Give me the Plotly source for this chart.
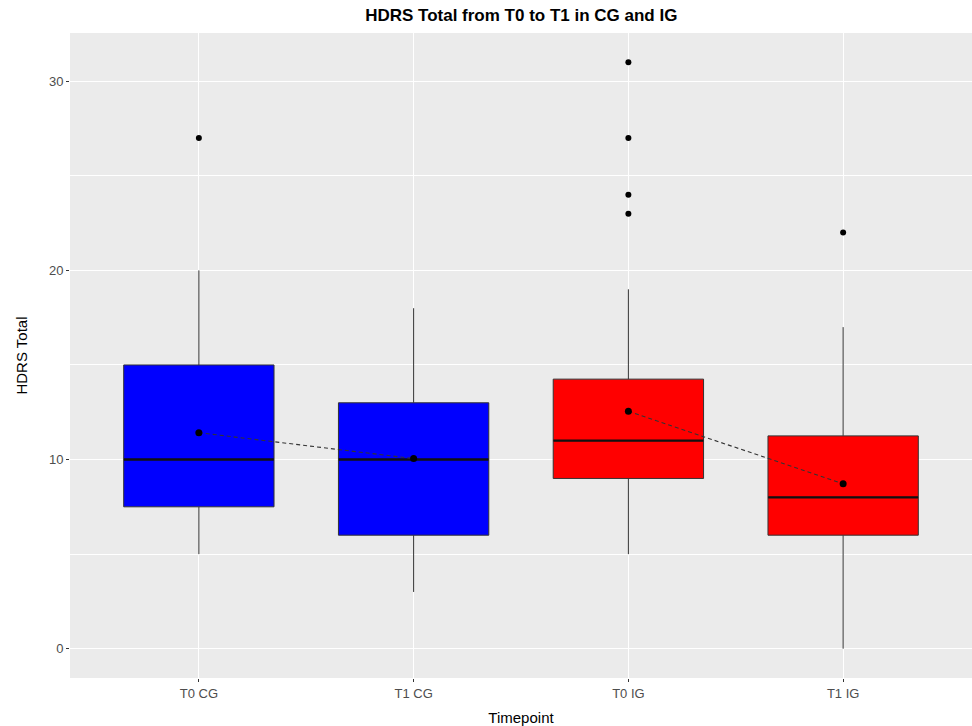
import plotly.graph_objects as go

categories = ["T0 CG", "T1 CG", "T0 IG", "T1 IG"]
fill_colors = ["#0000FF", "#0000FF", "#FF0000", "#FF0000"]
q1 = [7.5, 6.0, 9.0, 6.0]
medians = [10.0, 10.0, 11.0, 8.0]
q3 = [15.0, 13.0, 14.25, 11.25]
lower_whisker = [5.0, 3.0, 5.0, 0.0]
upper_whisker = [20.0, 18.0, 19.0, 17.0]
means = [11.42, 10.05, 12.55, 8.72]
mean_groups = [["T0 CG", "T1 CG"], ["T0 IG", "T1 IG"]]
outlier_cats = ["T0 CG", "T0 IG", "T0 IG", "T0 IG", "T0 IG", "T1 IG"]
outlier_vals = [27, 31, 27, 24, 23, 22]

fig = go.Figure()
for i, c in enumerate(categories):
    fig.add_trace(go.Box(
        x=[c], q1=[q1[i]], median=[medians[i]], q3=[q3[i]],
        lowerfence=[lower_whisker[i]], upperfence=[upper_whisker[i]],
        fillcolor=fill_colors[i], line=dict(color="#333333", width=1),
        whiskerwidth=0, width=0.7, boxpoints=False, showlegend=False,
        hoverinfo="skip",
    ))

# thicker median lines (ggplot fatten)
fig.add_trace(go.Scatter(
    x=categories, y=medians, mode="markers",
    marker=dict(symbol="line-ew", size=107, line=dict(color="#111111", width=2.4)),
    showlegend=False, hoverinfo="skip",
))

# outliers
fig.add_trace(go.Scatter(
    x=outlier_cats, y=outlier_vals, mode="markers",
    marker=dict(color="black", size=6), showlegend=False,
))

# mean line + points, one per group
for grp in mean_groups:
    ys = [means[categories.index(c)] for c in grp]
    fig.add_trace(go.Scatter(
        x=grp, y=ys, mode="lines+markers",
        line=dict(color="#333333", width=1.1, dash="4px,3px"),
        marker=dict(color="black", size=7), showlegend=False,
    ))

fig.update_layout(
    width=972, height=726,
    margin=dict(l=70, r=0, t=33, b=48),
    paper_bgcolor="white", plot_bgcolor="#EBEBEB",
    boxmode="overlay",
    font=dict(family="Liberation Sans, Arial, sans-serif", color="black"),
    title=dict(text="<b>HDRS Total from T0 to T1 in CG and IG</b>",
               x=0.5363, xanchor="center", y=0.979, yanchor="middle",
               font=dict(size=17, color="black")),
)
fig.update_xaxes(
    type="category", categoryorder="array", categoryarray=categories,
    range=[-0.6, 3.6], showgrid=True, gridcolor="white", gridwidth=1.1,
    zeroline=False, showline=False,
    ticks="outside", ticklen=3, tickcolor="#333333", tickwidth=1,
    tickfont=dict(size=13, color="#4D4D4D"),
    title=dict(text="Timepoint", font=dict(size=15, color="black"), standoff=12),
)
fig.update_yaxes(
    range=[-1.55, 32.55], tickvals=[0, 10, 20, 30],
    showgrid=True, gridcolor="white", gridwidth=1.1, zeroline=False,
    showline=False,
    minor=dict(tickvals=[5, 15, 25], showgrid=True, gridcolor="white", gridwidth=0.5, ticks=""),
    ticks="outside", ticklen=3, tickcolor="#333333", tickwidth=1,
    tickfont=dict(size=13, color="#4D4D4D"),
    title=dict(text="HDRS Total", font=dict(size=15, color="black"), standoff=17),
)

fig.write_html("out.html", config={"displayModeBar": False},
               post_script="document.body.style.margin='0px';")
